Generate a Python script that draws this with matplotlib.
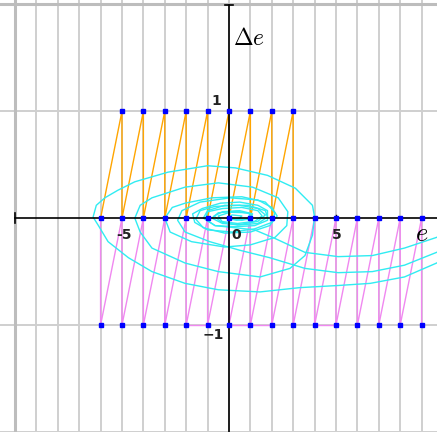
import numpy as np
import matplotlib.pyplot as plt

plt.rcParams['mathtext.fontset'] = 'cm'

# sampling grid points (e, delta e)
top_e = [-5, -4, -3, -2, -1, 0, 1, 2, 3]
mid_e = [-6, -5, -4, -3, -2, -1, 0, 1, 2, 3, 4, 5, 6, 7, 8, 9]
bot_e = [-6, -5, -4, -3, -2, -1, 0, 1, 2, 3, 4, 5, 6, 7, 8, 9]
bot_flat = [(-2, -1), (0, 2), (4, 5)]

# phase trajectories
traj_a_e = [10.3, 9.7, 8.2, 6.6, 5.1, 3.3, 1.45, -0.5, -2.05, -3.6, -4.7, -5.65, -6.1, -6.35,
            -6.2, -5.8, -5.2, -4.4, -2.85, -1.0, 0.3, 1.8, 3.1, 3.9, 4.0, 3.9, 3.55, 2.85,
            1.45, -0.5, -2.05, -3.6, -4.15, -4.4, -4.15, -3.6, -2.05, -0.5, 1.1, 2.3, 2.75,
            2.7, 2.15, 1.0, -0.2, -1.75, -2.75, -3.0, -2.65, -2.05, -0.8, 0.6, 1.7, 2.15,
            2.0, 1.2, 0.15, -1.0, -1.6, -1.7, -1.25, -0.4, 0.5, 1.35, 1.8, 1.8, 1.2, 0.3,
            -0.65, -1.1, -1.0, -0.3, 0.6, 1.35, 1.55, 1.2, 0.4, -0.4, -0.7, -0.3, 0.5, 1.1,
            1.0, 0.35, -0.1, 0.15, 0.6, 0.45, 0.1]
traj_a_de = [-0.35, -0.42, -0.55, -0.61, -0.63, -0.65, -0.69, -0.67, -0.61, -0.50, -0.37, -0.22,
             -0.07, 0.01, 0.12, 0.19, 0.26, 0.34, 0.43, 0.49, 0.47, 0.40, 0.28, 0.12, 0.01,
             -0.16, -0.35, -0.47, -0.55, -0.50, -0.42, -0.28, -0.13, 0.0, 0.12, 0.19, 0.29,
             0.33, 0.29, 0.19, 0.06, -0.07, -0.18, -0.25, -0.27, -0.22, -0.13, 0.0, 0.10,
             0.14, 0.19, 0.20, 0.15, 0.05, -0.04, -0.10, -0.13, -0.11, -0.04, 0.04, 0.09,
             0.14, 0.15, 0.12, 0.07, -0.02, -0.07, -0.08, -0.07, -0.01, 0.06, 0.09, 0.10,
             0.07, 0.02, -0.03, -0.05, -0.03, 0.02, 0.06, 0.07, 0.04, -0.01, -0.02, 0.0,
             0.03, 0.02, -0.01, 0.0]

traj_b_e = [10.3, 9.7, 8.2, 6.7, 5.1, 3.55, 2.15, 1.2, 0.3, -0.65, -1.2, -1.0, -0.2, 0.9, 1.7,
            1.8, 1.35, 0.4, -0.3, -0.5, 0.05, 0.9, 1.1, 0.6, 0.15]
traj_b_de = [-0.13, -0.18, -0.28, -0.35, -0.36, -0.32, -0.19, -0.11, -0.09, -0.07, 0.0, 0.07,
             0.12, 0.12, 0.07, 0.01, -0.05, -0.065, -0.04, 0.02, 0.055, 0.05, 0.01, -0.02, 0.0]

traj_c_e = [10.3, 9.7, 8.2, 6.7, 5.1, 3.55, 1.9, 0.5, -0.9, -2.05, -2.4, -2.2, -1.35, 0.05,
            1.35, 2.0, 2.25, 1.9, 1.0, -0.2, -1.2, -1.55, -1.35, -0.65, 0.5, 1.35, 1.7, 1.35,
            0.5, -0.3, -0.8, -0.5, 0.35, 1.0, 0.85, 0.25]
traj_c_de = [-0.27, -0.32, -0.44, -0.50, -0.51, -0.47, -0.37, -0.30, -0.22, -0.13, -0.02, 0.07,
             0.15, 0.19, 0.17, 0.10, 0.02, -0.07, -0.13, -0.14, -0.09, -0.01, 0.07, 0.11, 0.12,
             0.09, 0.03, -0.03, -0.06, -0.05, 0.0, 0.05, 0.065, 0.04, -0.01, -0.01]

fig = plt.figure(figsize=(4.37, 4.32), dpi=100)
ax = fig.add_axes([0, 0, 1, 1])
ax.set_xlim(-10.7, 9.72)
ax.set_ylim(-2.0, 2.04)
ax.axis('off')

# grid
for gx in range(-10, 11):
    ax.axvline(gx, color='#cfcfcf', lw=1.4, zorder=0)
for gy in [-2, -1, 1, 2]:
    ax.axhline(gy, color='#cfcfcf', lw=1.4, zorder=0)
ax.axvline(-10, color='#bdbdbd', lw=2.2, zorder=0)
ax.axhline(2, color='#bdbdbd', lw=2.2, zorder=0)

# axes with end caps
ax.plot([-10, 10], [0, 0], color='black', lw=1.2, zorder=3)
ax.plot([0, 0], [-2.1, 1.99], color='black', lw=1.2, zorder=3)
ax.plot([-10, -10], [-0.045, 0.045], color='black', lw=1.2, zorder=3)
ax.plot([-0.2, 0.2], [1.99, 1.99], color='black', lw=1.2, zorder=3)
ax.plot([5, 5], [0, 0.03], color='black', lw=1.0, zorder=3)

# upper (orange) zigzag
ox, oy = [top_e[0] - 1], [0]
for e in top_e:
    ox += [e, e]
    oy += [1, 0]
ax.plot(ox, oy, color='orange', lw=1.0, zorder=2)

# lower (violet) zigzag
vx, vy = [], []
for e in bot_e:
    vx += [e, e]
    vy += [0, -1]
ax.plot(vx, vy, color='#f088f0', lw=1.0, zorder=2)
for a, b in bot_flat:
    ax.plot([a, b], [-1, -1], color='#f088f0', lw=1.0, zorder=2)

# trajectories
for te, td in [(traj_a_e, traj_a_de), (traj_b_e, traj_b_de), (traj_c_e, traj_c_de)]:
    ax.plot(te, td, color='#30ecf2', lw=1.0, solid_joinstyle='round', zorder=2.5)

# grid points
ax.plot(top_e, np.ones(len(top_e)), 's', color='blue', ms=3.3, zorder=4)
ax.plot(mid_e, np.zeros(len(mid_e)), 's', color='blue', ms=3.3, zorder=4)
ax.plot(bot_e, -np.ones(len(bot_e)), 's', color='blue', ms=3.3, zorder=4)

# labels
lab = dict(fontsize=10, fontweight='bold', color='#222222', ha='center', va='center', zorder=5)
ax.text(-0.6, 1.1, '1', **lab)
ax.text(-4.9, -0.16, '-5', **lab)
ax.text(0.33, -0.16, '0', **lab)
ax.text(5.05, -0.16, '5', **lab)
ax.text(-0.75, -1.09, '\u22121', **lab)
ax.text(0.2, 1.68, r'$\Delta e$', fontsize=17, ha='left', va='center', zorder=5)
ax.text(8.7, -0.15, r'$e$', fontsize=19, ha='left', va='center', zorder=5)

fig.savefig('out.png', dpi=100)
